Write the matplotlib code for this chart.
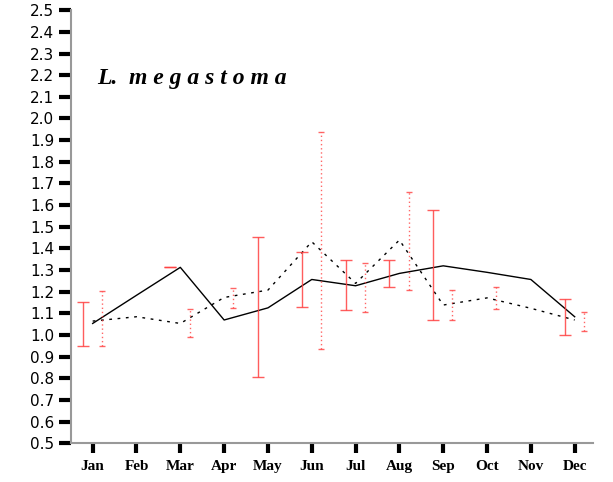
import numpy as np
import matplotlib.pyplot as plt

months = ["Jan", "Feb", "Mar", "Apr", "May", "Jun", "Jul", "Aug", "Sep", "Oct", "Nov", "Dec"]
solid_vals = [1.054, 1.184, 1.313, 1.070, 1.126, 1.257, 1.228, 1.285, 1.320, 1.290, 1.257, 1.085]
dotted_vals = [1.065, 1.085, 1.054, 1.174, 1.208, 1.431, 1.239, 1.439, 1.139, 1.172, 1.124, 1.070]

# error bar ranges (low, high); nan where there is no bar
solid_lo = [0.951, np.nan, 1.313, np.nan, 0.805, 1.131, 1.117, 1.222, 1.068, np.nan, np.nan, 0.999]
solid_hi = [1.151, np.nan, 1.313, np.nan, 1.451, 1.382, 1.345, 1.345, 1.576, np.nan, np.nan, 1.165]
dotted_lo = [0.950, np.nan, 0.990, 1.124, np.nan, 0.934, 1.108, 1.207, 1.068, 1.122, np.nan, 1.018]
dotted_hi = [1.203, np.nan, 1.119, 1.216, np.nan, 1.938, 1.334, 1.660, 1.207, 1.223, np.nan, 1.105]

x = np.arange(1, 13)
solid_lo, solid_hi = np.array(solid_lo), np.array(solid_hi)
dotted_lo, dotted_hi = np.array(dotted_lo), np.array(dotted_hi)

fig = plt.figure(figsize=(6.13, 4.82), dpi=100)
ax = fig.add_axes([0.1158, 0.0799, 0.851, 0.899])

ax.plot(x, solid_vals, color='black', lw=1.0)
ax.plot(x, dotted_vals, color='black', lw=1.0, linestyle=(0, (2, 4)))

# solid error bars, shifted left
mid = (solid_lo + solid_hi) / 2
err = (solid_hi - solid_lo) / 2
ax.errorbar(x - 0.23, mid, yerr=err, fmt='none', ecolor='#ff4040', elinewidth=1.0,
            capsize=4.5, capthick=1.0, alpha=0.85)

# dotted error bars, shifted right
mid = (dotted_lo + dotted_hi) / 2
err = (dotted_hi - dotted_lo) / 2
eb = ax.errorbar(x + 0.21, mid, yerr=err, fmt='none', ecolor='#ff4040', elinewidth=1.0,
                 capsize=2, capthick=1.0, alpha=0.8)
eb[2][0].set_linestyle((0, (1, 2)))

ax.set_xlim(0.505, 12.41)
ax.set_ylim(0.5, 2.5)
ax.set_yticks(np.arange(0.5, 2.51, 0.1))
ax.set_yticklabels([f"{v:.1f}" for v in np.arange(0.5, 2.51, 0.1)], fontsize=11,
                   family='DejaVu Sans')
ax.set_xticks(x)
ax.set_xticklabels(months, fontsize=11, family='Liberation Serif', fontweight='bold')

for side in ['top', 'right']:
    ax.spines[side].set_visible(False)
for side in ['left', 'bottom']:
    ax.spines[side].set_color('#999999')
    ax.spines[side].set_linewidth(1.5)
ax.tick_params(axis='y', direction='out', length=9, width=3, color='black', pad=3)
ax.tick_params(axis='x', direction='out', length=7, width=3, color='black', pad=5)

ax.text(0.05, 0.829, "L.  m e g a s t o m a", transform=ax.transAxes, fontsize=17,
        family='Liberation Serif', fontstyle='italic', fontweight='bold')

fig.savefig("out.png", dpi=100)
